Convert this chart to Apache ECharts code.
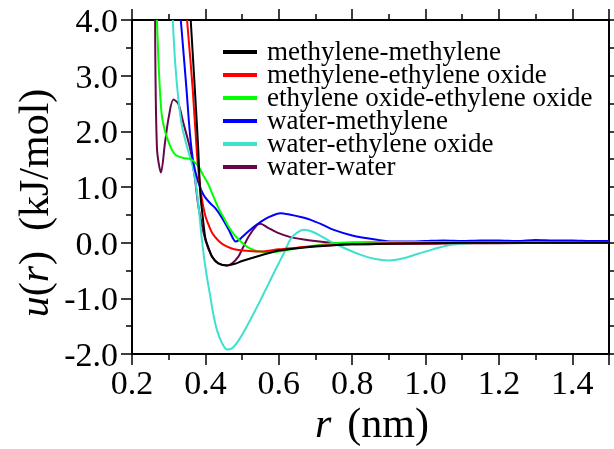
<!DOCTYPE html>
<html>
<head>
<meta charset="utf-8">
<script src="https://cdn.jsdelivr.net/npm/echarts@6/dist/echarts.min.js"></script>
<style>
  html, body { margin: 0; padding: 0; background: #fff; }
  #chart { width: 614px; height: 449px; }
</style>
</head>
<body>
<div id="chart"></div>
<div style="font-family:'Liberation Serif';font-size:24px">0.4 methylene (kJ/mol) <i>u r</i></div>
<script>
// series names (legend order)
var names = [
  'methylene-methylene',
  'methylene-ethylene oxide',
  'ethylene oxide-ethylene oxide',
  'water-methylene',
  'water-ethylene oxide',
  'water-water'
];
var colors = ['#000000', '#ff0000', '#00ff00', '#0000ff', '#40e0d0', '#670748'];
var xTicks = [0.2, 0.4, 0.6, 0.8, 1.0, 1.2, 1.4];
var yTicks = [-2, -1, 0, 1, 2, 3, 4];

// [r (nm), u (kJ/mol)]
var methMeth = [
  [0.36, 4.0], [0.37, 2.9], [0.38, 1.75], [0.386, 0.9], [0.393, 0.45], [0.40, 0.08],
  [0.41, -0.12], [0.418, -0.25], [0.435, -0.37], [0.46, -0.41], [0.48, -0.38],
  [0.50, -0.33], [0.55, -0.23], [0.60, -0.14], [0.65, -0.1], [0.70, -0.07],
  [0.80, -0.03], [0.90, -0.02], [1.0, -0.01], [1.2, 0.0], [1.5, 0.0]
];
var methEO = [
  [0.35, 4.0], [0.365, 2.8], [0.377, 1.6], [0.385, 1.05], [0.39, 0.8], [0.40, 0.48],
  [0.41, 0.3], [0.42, 0.16], [0.435, 0.04], [0.45, -0.04], [0.47, -0.1], [0.49, -0.13],
  [0.52, -0.15], [0.55, -0.16], [0.60, -0.12], [0.65, -0.09], [0.70, -0.06],
  [0.80, -0.03], [0.90, -0.01], [1.0, -0.01], [1.5, 0.0]
];
var eoEO = [
  [0.268, 4.0], [0.274, 3.0], [0.281, 2.3], [0.29, 2.0], [0.30, 1.8], [0.31, 1.65],
  [0.32, 1.57], [0.34, 1.52], [0.36, 1.5], [0.38, 1.38], [0.395, 1.2], [0.408, 1.05],
  [0.42, 0.86], [0.435, 0.63], [0.45, 0.45], [0.463, 0.29], [0.48, 0.13], [0.50, 0.0],
  [0.52, -0.1], [0.54, -0.15], [0.57, -0.17], [0.60, -0.16], [0.65, -0.1],
  [0.70, -0.05], [0.77, 0.0], [0.85, 0.01], [1.0, 0.01], [1.5, 0.0]
];
var waterMeth = [
  [0.333, 4.0], [0.348, 2.8], [0.358, 1.95], [0.367, 1.45], [0.38, 1.1], [0.394, 0.87],
  [0.41, 0.73], [0.427, 0.62], [0.445, 0.45], [0.463, 0.24], [0.475, 0.08], [0.482, 0.02],
  [0.49, 0.04], [0.50, 0.1], [0.52, 0.22], [0.541, 0.33], [0.57, 0.45], [0.605, 0.53],
  [0.632, 0.5], [0.66, 0.46], [0.687, 0.41], [0.72, 0.32], [0.75, 0.23], [0.80, 0.13],
  [0.87, 0.05], [0.91, 0.02], [0.95, 0.02], [1.0, 0.03], [1.05, 0.04], [1.1, 0.03],
  [1.15, 0.04], [1.2, 0.04], [1.25, 0.03], [1.3, 0.05], [1.35, 0.04], [1.4, 0.04],
  [1.45, 0.03], [1.5, 0.03]
];
var waterEO = [
  [0.311, 4.0], [0.318, 3.2], [0.326, 2.6], [0.336, 2.1], [0.35, 1.72], [0.36, 1.5],
  [0.368, 1.3], [0.375, 1.0], [0.383, 0.55], [0.39, 0.08], [0.397, -0.3],
  [0.405, -0.65], [0.413, -0.95], [0.422, -1.3], [0.432, -1.58], [0.445, -1.8],
  [0.459, -1.92], [0.472, -1.9], [0.486, -1.8], [0.505, -1.6], [0.523, -1.38],
  [0.545, -1.1], [0.569, -0.78], [0.59, -0.5], [0.613, -0.2], [0.632, 0.06],
  [0.65, 0.18], [0.668, 0.23], [0.69, 0.2], [0.72, 0.1], [0.75, -0.01], [0.78, -0.1],
  [0.82, -0.21], [0.86, -0.29], [0.9, -0.32], [0.94, -0.28], [0.98, -0.2],
  [1.02, -0.12], [1.06, -0.05], [1.1, -0.02], [1.15, 0.0], [1.5, 0.0]
];
var waterWater = [
  [0.263, 4.0], [0.268, 1.7], [0.279, 1.26], [0.29, 1.8], [0.30, 2.25], [0.313, 2.57],
  [0.326, 2.5], [0.34, 2.15], [0.359, 1.67], [0.372, 1.13], [0.381, 0.65], [0.40, 0.05],
  [0.418, -0.25], [0.435, -0.37], [0.459, -0.41], [0.473, -0.37], [0.49, -0.25],
  [0.50, -0.12], [0.518, 0.11], [0.54, 0.31], [0.55, 0.34], [0.57, 0.27], [0.596, 0.18],
  [0.632, 0.1], [0.687, 0.04], [0.742, 0.0], [0.83, -0.03], [0.9, -0.02], [1.0, -0.02],
  [1.1, -0.01], [1.2, -0.01], [1.35, 0.0], [1.5, 0.0]
];
var seriesData = [methMeth, methEO, eoEO, waterMeth, waterEO, waterWater];

var chart = echarts.init(document.getElementById('chart'));

var axisCommon = {
  axisLine: { show: true, onZero: false, lineStyle: { color: '#000', width: 2 } },
  axisTick: { show: true, length: 11, lineStyle: { color: '#000', width: 1.5 } },
  minorTick: { show: true, splitNumber: 2, length: 6, lineStyle: { color: '#000', width: 1.5 } },
  splitLine: { show: false },
  axisLabel: { show: false }
};

chart.setOption({
  animation: false,
  backgroundColor: '#fff',
  grid: { left: 132, right: 5, top: 20, bottom: 95 },
  xAxis: [
    Object.assign({ type: 'value', min: 0.2, max: 1.5, interval: 0.2, position: 'bottom' }, axisCommon),
    Object.assign({ type: 'value', min: 0.2, max: 1.5, interval: 0.2, position: 'top' }, axisCommon)
  ],
  yAxis: [
    Object.assign({ type: 'value', min: -2, max: 4, interval: 1, position: 'left' }, axisCommon),
    Object.assign({ type: 'value', min: -2, max: 4, interval: 1, position: 'right' }, axisCommon)
  ],
  series: seriesData.map(function (d, i) {
    return {
      name: names[i],
      type: 'line',
      data: d,
      showSymbol: false,
      smooth: 0.3,
      clip: true,
      color: colors[i],
      lineStyle: { width: 2, color: colors[i] },
      z: 2 + (5 - i)
    };
  })
});

// text as graphic text with a css font string
var FAM = '"Liberation Serif", "Times New Roman", serif';
var measure = document.createElement('canvas').getContext('2d');
function textWidth(t, font) { measure.font = font; return measure.measureText(t).width; }
function label(id, t, x, y, font, align) {
  return { id: id, type: 'text', x: x, y: y, silent: true,
    style: { text: t, font: font, fill: '#000', align: align || 'left', verticalAlign: 'middle' } };
}
// pieces [text, italic] laid out in a row from x0
function row(prefix, pieces, x0, y, size, gapAfter) {
  var out = [], x = x0;
  pieces.forEach(function (p, k) {
    var f = (p[1] ? 'italic ' : '') + size + 'px ' + FAM;
    out.push(label(prefix + k, p[0], x, y, f, 'left'));
    x += textWidth(p[0], f) + (gapAfter[k] || 0);
  });
  return { els: out, width: x - x0 };
}

function drawText() {
  var els = [];
  var tickFont = '34px ' + FAM;
  xTicks.forEach(function (v, k) {
    els.push(label('xt' + k, v.toFixed(1), chart.convertToPixel({ xAxisIndex: 0 }, v), 385, tickFont, 'center'));
  });
  yTicks.forEach(function (v, k) {
    els.push(label('yt' + k, v.toFixed(1), 118, chart.convertToPixel({ yAxisIndex: 0 }, v) + 3, tickFont, 'right'));
  });

  // x axis name: r (nm)
  var xPieces = [['r', true], ['(nm)', false]];
  var xw = row('tmp', xPieces, 0, 0, 42, [16]).width;
  row('xn', xPieces, 372 - xw / 2, 426, 42, [16]).els.forEach(function (e) { els.push(e); });

  // y axis name: u(r) (kJ/mol), rotated
  var yPieces = [['u', true], ['(', false], ['r', true], [')', false], ['(kJ/mol)', false]];
  var yGaps = [0, 0, 1, 20];
  var yw = row('tmp', yPieces, 0, 0, 42, yGaps).width;
  var yRow = row('yn', yPieces, -yw / 2, 0, 42, yGaps);
  els.push({ id: 'yname', type: 'group', x: 37, y: 203, rotation: Math.PI / 2, children: yRow.els });

  // legend
  names.forEach(function (n, i) {
    var cy = 52 + 23 * i;
    els.push({ id: 'lr' + i, type: 'rect', silent: true, shape: { x: 223, y: cy - 2, width: 34, height: 4 }, style: { fill: colors[i] } });
    els.push(label('lt' + i, n, 267, cy + 1, '27px ' + FAM, 'left'));
  });

  chart.setOption({ graphic: els }, { replaceMerge: ['graphic'] });
}

drawText();
if (document.fonts && document.fonts.load) {
  Promise.all([
    document.fonts.load('34px "Liberation Serif"'),
    document.fonts.load('italic 42px "Liberation Serif"')
  ]).then(drawText, drawText);
}
setTimeout(drawText, 200);
</script>
</body>
</html>
